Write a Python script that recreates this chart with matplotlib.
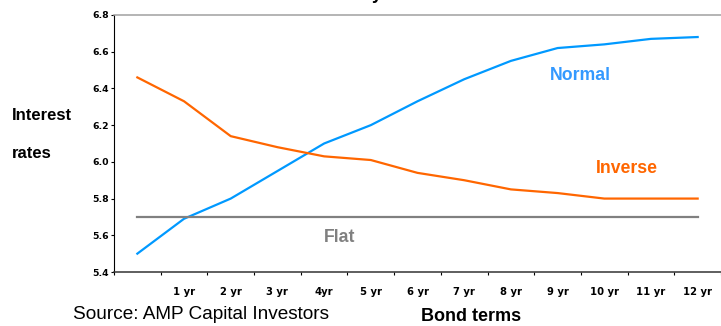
import matplotlib
matplotlib.use("Agg")
import matplotlib.pyplot as plt
from matplotlib.ticker import FixedLocator, NullFormatter, FixedFormatter

# ---- data ----
categories = ["", "1 yr", "2 yr", "3 yr", "4yr", "5 yr", "6 yr", "7 yr",
              "8 yr", "9 yr", "10 yr", "11 yr", "12 yr"]
normal = [5.50, 5.69, 5.80, 5.95, 6.10, 6.20, 6.33, 6.45, 6.55, 6.62, 6.64, 6.67, 6.68]
inverse = [6.46, 6.33, 6.14, 6.08, 6.03, 6.01, 5.94, 5.90, 5.85, 5.83, 5.80, 5.80, 5.80]
flat = [5.70] * 13
yticks = [5.4, 5.6, 5.8, 6.0, 6.2, 6.4, 6.6, 6.8]

BLUE = "#0099FF"
BLUE_LBL = "#3399FF"
ORANGE = "#FF6600"
GREY = "#808080"

W, H = 721, 326
fig = plt.figure(figsize=(W / 100, H / 100), dpi=100)
ax = fig.add_axes([114 / W, 1 - 272 / H, 1 - 114 / W, (272 - 15) / H])

x = list(range(len(categories)))
ax.plot(x, normal, color=BLUE, lw=1.6, solid_joinstyle="round")
ax.plot(x, inverse, color=ORANGE, lw=1.6, solid_joinstyle="round")
ax.plot(x, flat, color=GREY, lw=1.6)

ax.set_xlim(-0.5, len(categories) - 0.5)
ax.set_ylim(5.4, 6.8)

# y axis
ax.set_yticks(yticks)
ax.set_yticklabels([f"{v:.1f}" for v in yticks])
ax.tick_params(axis="y", direction="out", length=2.5, width=0.8, pad=1,
               labelsize=6.7, colors="black")
for lbl in ax.get_yticklabels():
    lbl.set_fontfamily("DejaVu Sans")
    lbl.set_fontweight("bold")

# x axis: ticks at category boundaries, labels at category centres
ax.xaxis.set_major_locator(FixedLocator([i - 0.5 for i in range(len(categories) + 1)]))
ax.xaxis.set_major_formatter(NullFormatter())
ax.xaxis.set_minor_locator(FixedLocator(x))
ax.xaxis.set_minor_formatter(FixedFormatter(categories))
ax.tick_params(axis="x", which="major", direction="out", length=2.5, width=0.8)
ax.tick_params(axis="x", which="minor", length=0, pad=11, labelsize=7.2)
for lbl in ax.xaxis.get_minorticklabels():
    lbl.set_fontfamily("DejaVu Sans")
    lbl.set_fontweight("bold")

# spines
ax.spines["right"].set_visible(False)
ax.spines["left"].set_color("black")
ax.spines["left"].set_linewidth(0.8)
ax.spines["bottom"].set_color("#333333")
ax.spines["bottom"].set_linewidth(1.1)
ax.spines["top"].set_color("#A0A0A0")
ax.spines["top"].set_linewidth(1.1)

# series labels
lf = dict(family="Liberation Sans", fontweight="bold", fontsize=12.7)
fig.text(580 / W, 1 - 75 / H, "Normal", color=BLUE_LBL, ha="center", va="center", **lf)
fig.text(627 / W, 1 - 168.5 / H, "Inverse", color=ORANGE, ha="center", va="center", **lf)
fig.text(340 / W, 1 - 237 / H, "Flat", color=GREY, ha="center", va="center", **lf)

# axis titles
tf = dict(family="Liberation Sans", fontweight="bold", fontsize=12)
fig.text(12 / W, 1 - 120 / H, "Interest", ha="left", va="baseline", **tf)
fig.text(12 / W, 1 - 158 / H, "rates", ha="left", va="baseline", **tf)
fig.text(471 / W, 1 - 321 / H, "Bond terms", ha="center", va="baseline",
         family="Liberation Sans", fontweight="bold", fontsize=13)

# source
fig.text(73 / W, 1 - 319 / H, "Source: AMP Capital Investors", ha="left", va="baseline",
         family="Liberation Sans", fontsize=13.7)

# title (mostly cut off at top, as in the reference)
fig.text(321 / W, 1 + 0.5 / H, "Bond yield curves", ha="left", va="baseline",
         family="Liberation Sans", fontweight="bold", fontsize=13)

fig.savefig("out.png", dpi=100)
